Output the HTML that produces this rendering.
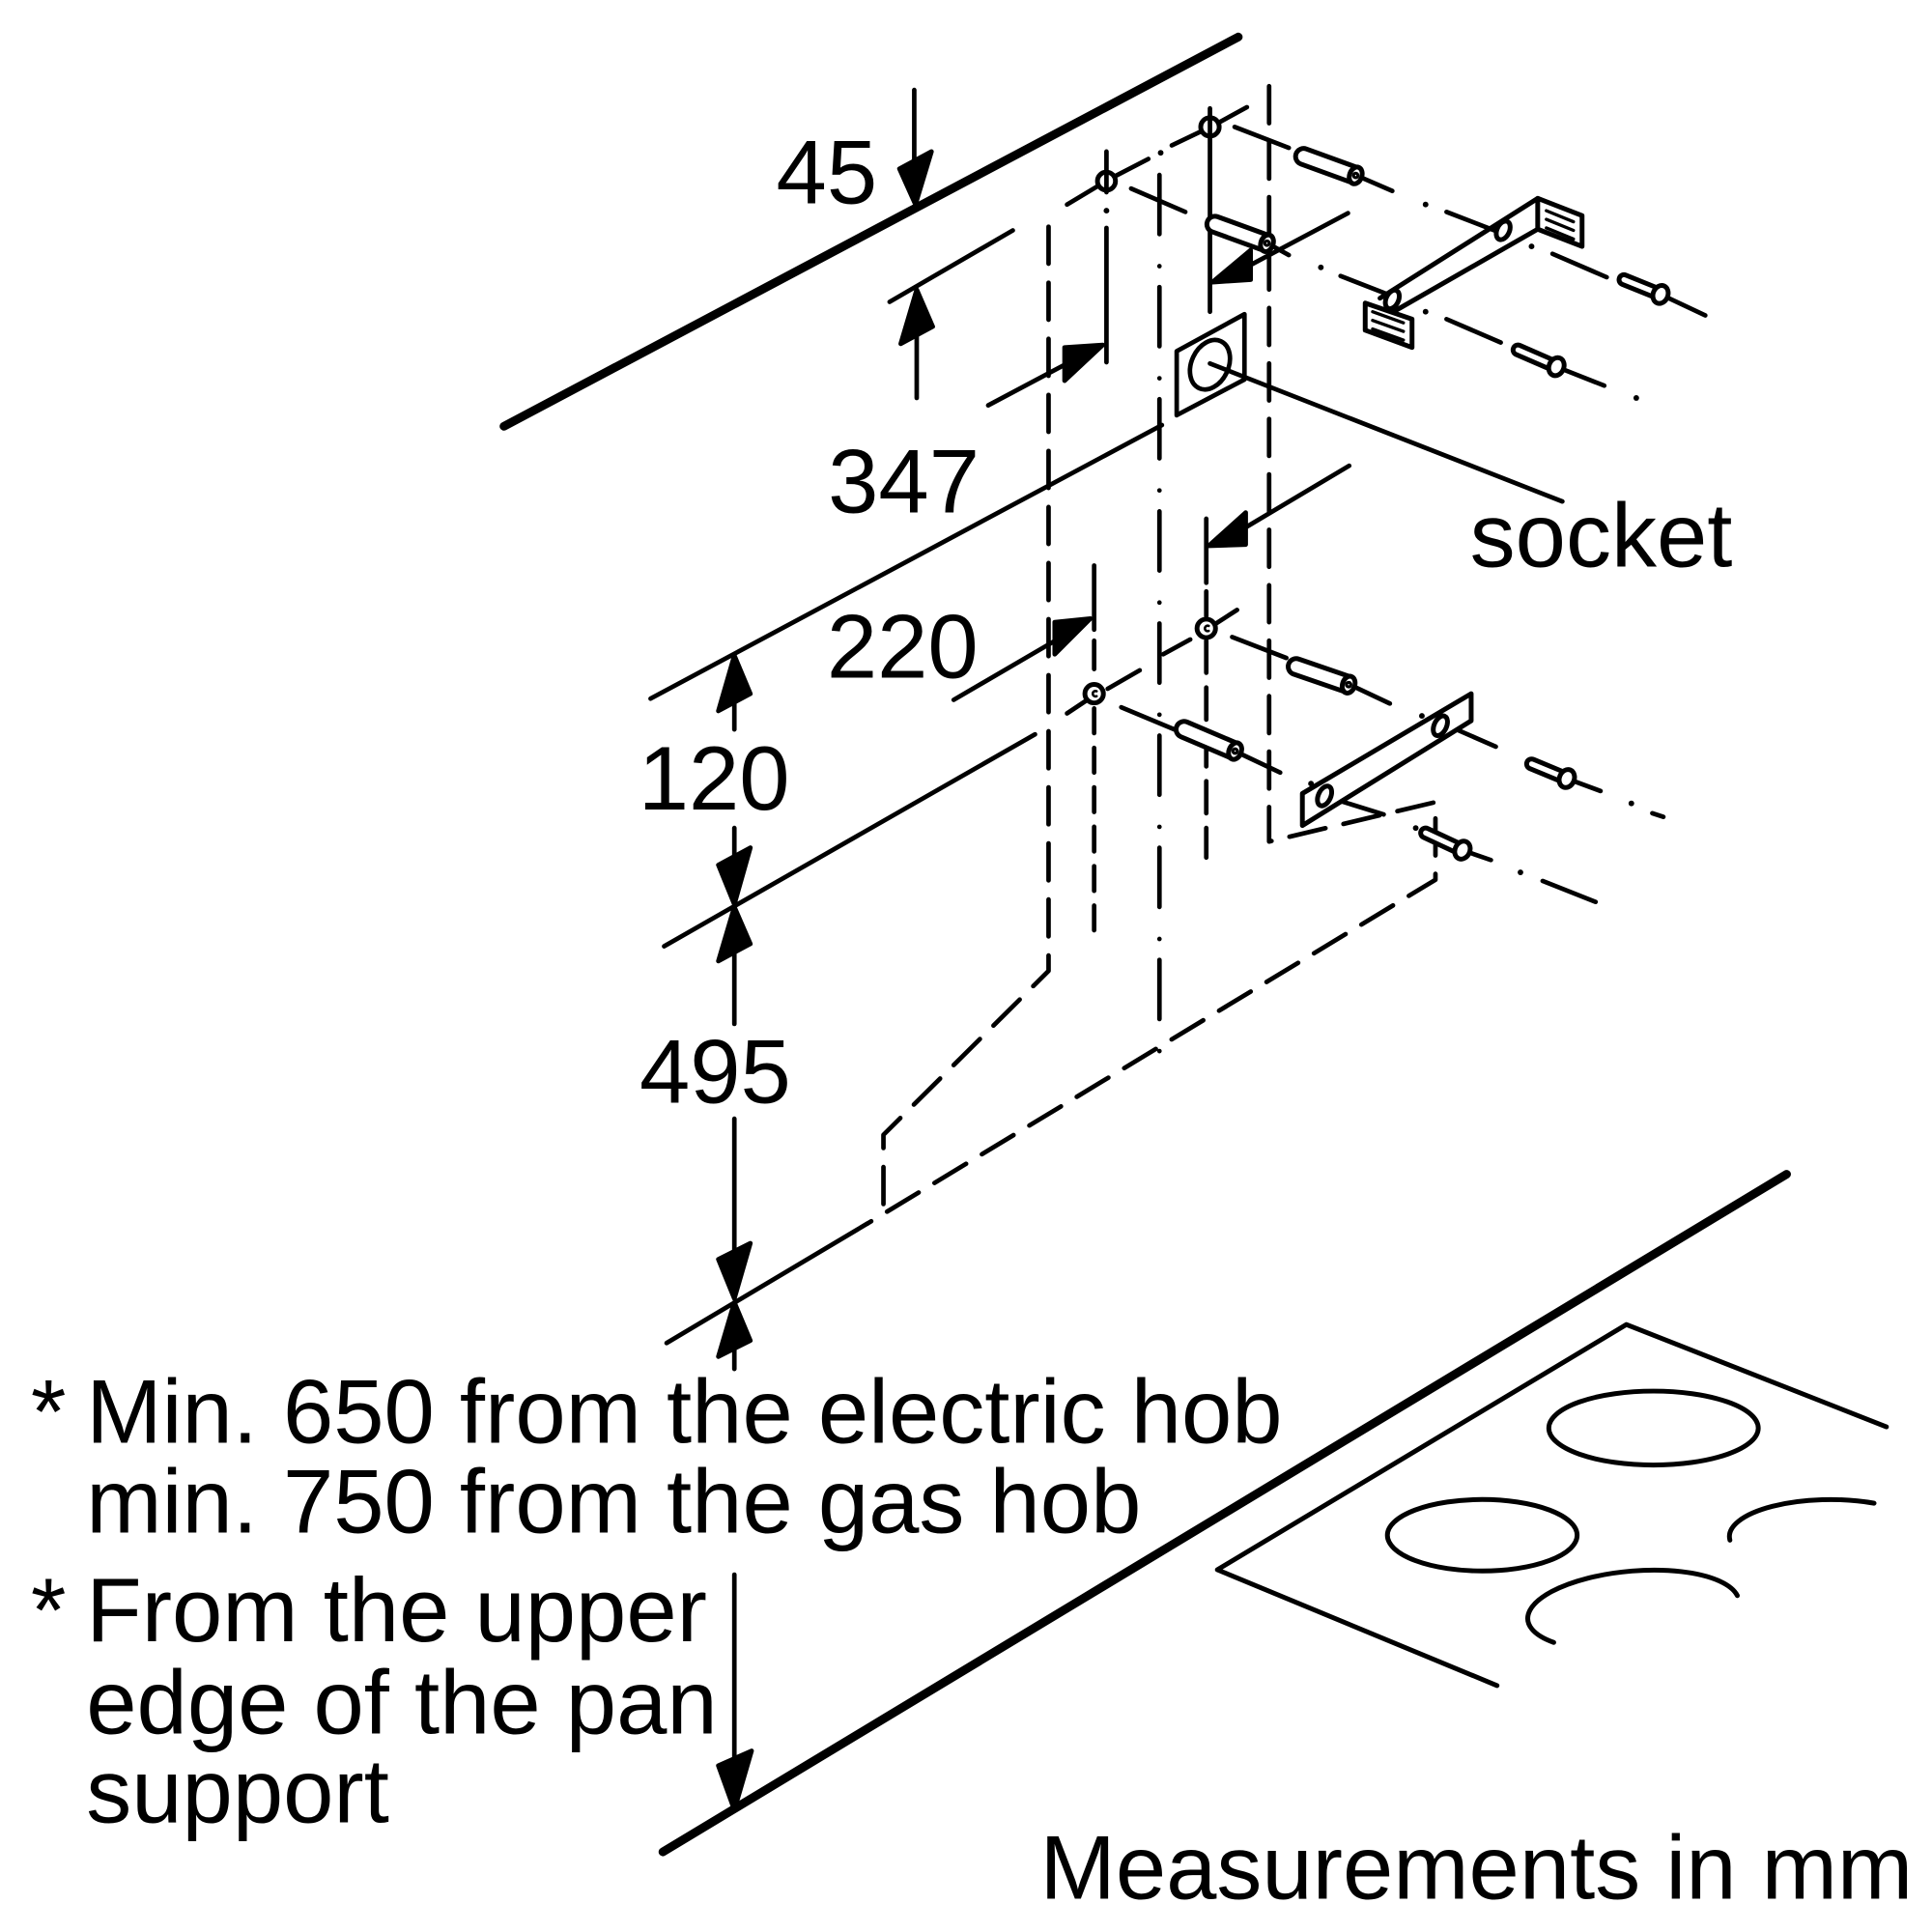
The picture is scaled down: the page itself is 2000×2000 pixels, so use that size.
<!DOCTYPE html>
<html><head><meta charset="utf-8"><style>
html,body{margin:0;padding:0;background:#fff;}
svg{display:block;}
text{font-family:"Liberation Sans",Arial,sans-serif;font-size:73.7px;fill:#000;}
</style></head><body>
<svg xmlns="http://www.w3.org/2000/svg" width="2000" height="2000" viewBox="0 0 1568 1568">
<rect width="1568" height="1568" fill="#fff"/>
<g stroke="#000" fill="none" stroke-linecap="round" stroke-linejoin="round" stroke-width="3.7">
<!-- thick lines -->
<path d="M409,346 L1005,30" stroke-width="7"/>
<path d="M538,1503 L1450,953" stroke-width="7"/>
<!-- hob -->
<g stroke-width="3.9">
<polyline points="1215,1368 988,1274 1320,1075 1531,1158"/>
<ellipse cx="1342" cy="1159" rx="85" ry="30"/>
<ellipse cx="1203" cy="1246" rx="77" ry="29"/>
<path d="M1404,1250 A82,30 0 0 1 1521,1220"/>
<path d="M1261,1333 A86,32 -5 1 1 1410,1295"/>
</g>
<!-- dimension lines left -->
<path d="M722,245 L822,187"/>
<path d="M742,73 V130"/>
<polygon points="730,137 756,123 743,166" fill="#000"/>
<path d="M744,323 V272"/>
<polygon points="744,235 757,265 731,279" fill="#000"/>
<path d="M528,567 L943,345"/>
<path d="M539,768 L840,596"/>
<path d="M541,1090 L704,993"/>
<!-- 120 -->
<path d="M596,570 V592"/>
<polygon points="596,532 609,563 583,577" fill="#000"/>
<path d="M596,672 V698"/>
<polygon points="596,734 583,702 609,688" fill="#000"/>
<!-- 495 -->
<polygon points="596,736 609,766 583,780" fill="#000"/>
<path d="M596,772 V831"/>
<path d="M596,908 V1016"/>
<polygon points="596,1054 583,1022 609,1009" fill="#000"/>
<polygon points="596,1057 609,1088 583,1101" fill="#000"/>
<path d="M596,1094 V1111"/>
<!-- pan support arrow -->
<path d="M596,1278 V1428"/>
<polygon points="596,1469 583,1433 610,1421" fill="#000"/>
<!-- hood dashed outlines -->
<path d="M851,184 V788 L717,921 V986" stroke-dasharray="30 15.5"/>
<path d="M1030,70 V683 L1165,651 V714 L704,993" stroke-dasharray="30 15"/>
<!-- dash-dot centre -->
<path d="M941,142 V865" stroke-dasharray="48 26 0.01 17"/>
<!-- upper verticals -->
<path d="M898,185 V294"/>
<path d="M898,123 V156"/>
<path d="M982,88 V253"/>
<!-- 347 horizontal arrow -->
<path d="M802,329 L866,295"/>
<polygon points="895,280 864,282 864,309" fill="#000"/>
<!-- top right arrow -->
<path d="M1094,173 L1015,215"/>
<polygon points="984,229 1015,203 1015,227" fill="#000"/>
<!-- 220 arrow -->
<path d="M774,568 L858,519"/>
<polygon points="885,502 856,505 856,531" fill="#000"/>
<!-- second upper-right arrow -->
<path d="M1095,378 L1011,428"/>
<polygon points="981,443 1011,416 1011,442" fill="#000"/>
<!-- lower verticals -->
<path d="M888,459 V511"/>
<path d="M888,520 V543"/>
<path d="M888,575 V755" stroke-dasharray="20 12"/>
<path d="M979,421 V473"/>
<path d="M979,480 V500"/>
<path d="M979,520 V696" stroke-dasharray="26 12"/>
<!-- upper dash-dot through holes -->
<path d="M866,166 L891,151"/>
<path d="M905,143 L932,129"/>
<path d="M951,118 L974,107"/>
<path d="M990,99 L1012,87"/>
<!-- lower dash-dot through holes -->
<path d="M866,579 L881,569"/>
<path d="M899,559 L925,544"/>
<path d="M944,531 L966,519"/>
<path d="M987,506 L1004,495"/>
<!-- upper bolt lines -->
<path d="M1002,103 L1046,120"/>
<path d="M1100,142 L1130,155"/>
<path d="M1174,172 L1218,189"/>
<path d="M1260,206 L1304,225"/>
<path d="M1348,239 L1384,256"/>
<path d="M918,153 L962,172"/>
<path d="M1028,197 L1046,207"/>
<path d="M1088,224 L1124,238"/>
<path d="M1174,259 L1218,278"/>
<path d="M1264,298 L1302,313"/>
<!-- lower bolt lines -->
<path d="M1000,517 L1044,534"/>
<path d="M1094,555 L1128,571"/>
<path d="M1182,592 L1214,606"/>
<path d="M1272,632 L1299,642"/>
<path d="M1341,660 L1350,663"/>
<path d="M910,574 L953,592"/>
<path d="M1003,610 L1039,627"/>
<path d="M1081,648 L1123,661"/>
<path d="M1187,690 L1210,698"/>
<path d="M1252,715 L1295,732"/>
<!-- socket -->
<path d="M982,295 L1268,407"/>
<polygon points="955,285 1010,255 1010,308 955,337" fill="#fff"/>
<ellipse cx="982" cy="296" rx="15" ry="21" transform="rotate(25 982 296)"/>
<path d="M982,295 L1010,306"/>
<g stroke-width="3.9">
<!-- top bracket -->
<path d="M1120,242 L1248,161"/>
<path d="M1131,253 L1248,186"/>
<polygon points="1248,161 1284,175 1284,200 1248,186" fill="#fff"/>
<polygon points="1108,246 1146,259 1146,282 1108,268" fill="#fff"/>
<ellipse cx="1130" cy="243" rx="5" ry="8" transform="rotate(25 1130 243)" fill="#fff"/>
<ellipse cx="1220" cy="187" rx="5" ry="8" transform="rotate(25 1220 187)" fill="#fff"/>
<!-- lower bracket -->
<polygon points="1057,644 1194,563 1194,585 1057,670" fill="#fff"/>
<ellipse cx="1075" cy="646" rx="5" ry="8.5" transform="rotate(25 1075 646)" fill="#fff"/>
<ellipse cx="1169" cy="589" rx="5" ry="8.5" transform="rotate(25 1169 589)" fill="#fff"/>
<!-- cylinders -->
<g transform="translate(1058,127) rotate(20)"><path d="M0,-6.5 H45 V6.5 H0 A6.5,6.5 0 0 1 0,-6.5 Z" fill="#fff"/><ellipse cx="45" cy="0" rx="5" ry="7" fill="#fff"/><circle cx="45" cy="0" r="1.8" stroke-width="2.5"/></g>
<g transform="translate(986,182) rotate(20)"><path d="M0,-6.5 H45 V6.5 H0 A6.5,6.5 0 0 1 0,-6.5 Z" fill="#fff"/><ellipse cx="45" cy="0" rx="5" ry="7" fill="#fff"/><circle cx="45" cy="0" r="1.8" stroke-width="2.5"/></g>
<g transform="translate(961,592) rotate(23)"><path d="M0,-6.5 H45 V6.5 H0 A6.5,6.5 0 0 1 0,-6.5 Z" fill="#fff"/><ellipse cx="45" cy="0" rx="5" ry="7" fill="#fff"/><circle cx="45" cy="0" r="1.8" stroke-width="2.5"/></g>
<g transform="translate(1052,541) rotate(19)"><path d="M0,-6.5 H45 V6.5 H0 A6.5,6.5 0 0 1 0,-6.5 Z" fill="#fff"/><ellipse cx="45" cy="0" rx="5" ry="7" fill="#fff"/><circle cx="45" cy="0" r="1.8" stroke-width="2.5"/></g>
<!-- pins -->
<g transform="translate(1318,227) rotate(22)"><path d="M0,-4 H31 V4 H0 A4,4 0 0 1 0,-4 Z" fill="#fff"/><ellipse cx="32" cy="0" rx="6" ry="7.5" fill="#fff"/></g>
<g transform="translate(1232,284) rotate(23.5)"><path d="M0,-4 H33 V4 H0 A4,4 0 0 1 0,-4 Z" fill="#fff"/><ellipse cx="34" cy="0" rx="6" ry="7.5" fill="#fff"/></g>
<g transform="translate(1243,620) rotate(22.5)"><path d="M0,-4 H30 V4 H0 A4,4 0 0 1 0,-4 Z" fill="#fff"/><ellipse cx="31" cy="0" rx="6" ry="7.5" fill="#fff"/></g>
<g transform="translate(1157,676) rotate(25)"><path d="M0,-4 H32 V4 H0 A4,4 0 0 1 0,-4 Z" fill="#fff"/><ellipse cx="33" cy="0" rx="6" ry="7.5" fill="#fff"/></g>
<!-- holes -->
<circle cx="898" cy="147" r="7.3"/>
<circle cx="982" cy="103" r="7.5"/>
<circle cx="888" cy="563" r="7.5" fill="#fff"/>
<circle cx="979" cy="510" r="7.5" fill="#fff"/>
</g>
<g stroke-width="2.6">
<path d="M1255,171 L1277,180"/><path d="M1255,178 L1277,187"/><path d="M1255,185 L1277,194"/>
<path d="M1114,253 L1139,262"/><path d="M1114,260 L1139,269"/><path d="M1114,267 L1139,276"/>
</g>
<path d="M890,561 A2.2,2.2 0 1 0 890,565" stroke-width="2"/>
<path d="M981,508 A2.2,2.2 0 1 0 981,512" stroke-width="2"/>
</g>
<!-- dots -->
<g fill="#000">
<circle cx="898" cy="171" r="2.3"/>
<circle cx="942" cy="124" r="2.3"/>
<circle cx="1072" cy="217" r="2.3"/>
<circle cx="1157" cy="166" r="2.3"/>
<circle cx="1157" cy="253" r="2.3"/>
<circle cx="1243" cy="200" r="2.3"/>
<circle cx="1328" cy="323" r="2.3"/>
<circle cx="1064" cy="636" r="2.3"/>
<circle cx="1154" cy="581" r="2.3"/>
<circle cx="1149" cy="672" r="2.3"/>
<circle cx="1234" cy="708" r="2.3"/>
<circle cx="1324" cy="652" r="2.3"/>
</g>
<!-- text -->
<text x="630" y="165">45</text>
<text x="672" y="416">347</text>
<text x="671" y="550">220</text>
<text x="518" y="657">120</text>
<text x="519" y="895">495</text>
<text x="1193" y="460">socket</text>
<text x="844" y="1541">Measurements in mm</text>
<text x="25" y="1171">*</text>
<text x="70" y="1171">Min. 650 from the electric hob</text>
<text x="70" y="1244">min. 750 from the gas hob</text>
<text x="25" y="1332">*</text>
<text x="70" y="1332">From the upper</text>
<text x="70" y="1407">edge of the pan</text>
<text x="70" y="1479">support</text>
</svg>
</body></html>
